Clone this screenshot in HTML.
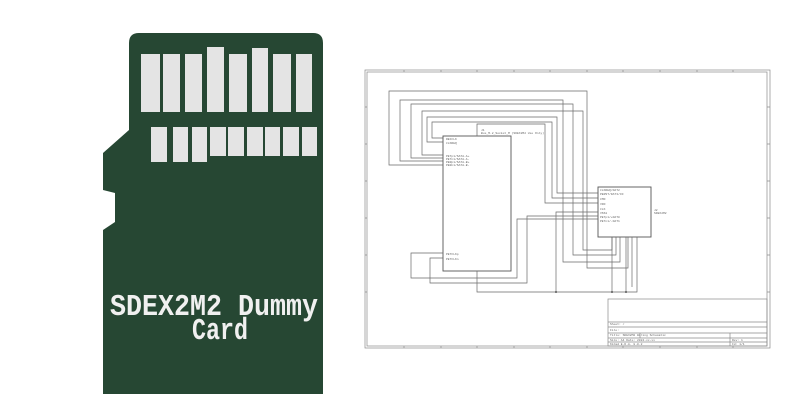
<!DOCTYPE html>
<html><head><meta charset="utf-8"><style>
html,body{margin:0;padding:0;background:#fff;width:800px;height:420px;overflow:hidden}
svg{display:block}
</style></head><body>
<svg width="800" height="420" viewBox="0 0 800 420" xmlns="http://www.w3.org/2000/svg">
<path d="M139,33 H313 Q323,33 323,43 V394 H103 V230 L115,222 V193 L103,190 V153 L129,130 V43 Q129,33 139,33 Z" fill="#264733"/>
<g fill="#e4e4e4">
<rect x="141" y="54" width="19" height="58"/>
<rect x="163" y="54" width="17" height="58"/>
<rect x="185" y="54" width="17" height="58"/>
<rect x="207" y="47" width="17" height="65"/>
<rect x="229" y="54" width="18" height="58"/>
<rect x="252" y="48" width="16" height="64"/>
<rect x="273" y="54" width="18" height="58"/>
<rect x="296" y="54" width="16" height="58"/>
<rect x="151" y="127" width="16" height="35"/>
<rect x="173" y="127" width="15" height="35"/>
<rect x="192" y="127" width="15" height="35"/>
<rect x="210" y="127" width="16" height="29"/>
<rect x="228" y="127" width="16" height="29"/>
<rect x="247" y="127" width="16" height="29"/>
<rect x="265" y="127" width="15" height="29"/>
<rect x="283" y="127" width="16" height="29"/>
<rect x="302" y="127" width="15" height="29"/>
</g>
<g fill="#f0f0f0" font-family="Liberation Mono, monospace" font-weight="bold" font-size="31" text-anchor="middle">
<text x="214" y="315" textLength="208" lengthAdjust="spacingAndGlyphs">SDEX2M2 Dummy</text>
<text x="220" y="339" textLength="56" lengthAdjust="spacingAndGlyphs">Card</text>
</g>
<g fill="none" stroke="#8a8a8a" stroke-width="0.7">
<rect x="365" y="70" width="405" height="278"/>
<rect x="367" y="72" width="400" height="274"/>
<path d="M404,70v2M441,70v2M477,70v2M514,70v2M550,70v2M587,70v2M623,70v2M660,70v2M697,70v2M733,70v2M404,346v2M441,346v2M477,346v2M514,346v2M550,346v2M587,346v2M623,346v2M660,346v2M697,346v2M733,346v2M365,107h2M365,144h2M365,181h2M365,218h2M365,255h2M365,292h2M767,107h3M767,144h3M767,181h3M767,218h3M767,255h3M767,292h3"/>
<rect x="608" y="299" width="159" height="47"/>
<path d="M608,322h159M608,327h159M608,333h159M608,338h159M608,342h159M640,333v5M730,333v13"/>
</g>
<g fill="none" stroke="#555" stroke-width="0.9">
<rect x="443" y="136" width="68" height="135"/>
<rect x="598" y="187" width="53" height="50"/>
</g>
<g fill="none" stroke="#6a6a6a" stroke-width="0.7">
<polyline points="443,165 389,165 389,91 587,91 587,268 628,268 628,237"/>
<polyline points="443,161 400,161 400,100 563,100 563,262 620,262 620,237"/>
<polyline points="443,158 411,158 411,104 573,104 573,255 616,255 616,237"/>
<polyline points="443,155 422,155 422,111 583,111 583,250 612,250 612,237"/>
<polyline points="443,142 427,142 427,117 557,117 557,193 598,193"/>
<polyline points="443,138 432,138 432,122 552,122 552,198 598,198"/>
<polyline points="477,136 477,124 545,124 545,203 598,203"/>
<polyline points="443,253 411,253 411,278 517,278 517,219 598,219"/>
<polyline points="443,258 430,258 430,283 527,283 527,216 598,216"/>
<polyline points="477,271 477,292 637,292 637,237"/>
<polyline points="556,292 556,212 598,212"/>
<polyline points="612,292 612,237"/>
<polyline points="626,292 626,237"/>
<polyline points="632,287 632,237"/>
</g>
<g fill="#555"><circle cx="556" cy="292" r="1"/><circle cx="612" cy="292" r="1"/><circle cx="626" cy="292" r="1"/></g>
<g font-family="Liberation Mono, monospace" font-size="3" fill="#666">
<text x="481" y="131">J1</text><text x="481" y="134">Bus_M.2_Socket_M (SDEX2M2 Use Only)</text>
<text x="446" y="140">REFCLK</text><text x="446" y="144">CLKREQ</text>
<text x="446" y="157">PETp1/SATA-A+</text><text x="446" y="160">PETn1/SATA-A-</text><text x="446" y="163">PERp1/SATA-B+</text><text x="446" y="166">PERn1/SATA-B-</text>
<text x="446" y="255">PETCLKp</text><text x="446" y="260">PETCLKn</text>
<text x="600" y="191">CLKREQ/DAT2</text><text x="600" y="195">PERST/DAT3/CD</text><text x="600" y="200">CMD</text><text x="600" y="205">VDD</text><text x="600" y="210">CLK</text><text x="600" y="214">VSS1</text><text x="600" y="218">PETp1/+DAT0</text><text x="600" y="222">PETn1/-DAT1</text>
<text x="654" y="211">J2</text><text x="654" y="214">SDEX2M2</text>
<text x="610" y="325">Sheet: /</text><text x="610" y="331">File:</text><text x="610" y="336">Title: SDEX2M2 Wiring Schematic</text><text x="610" y="341">Size: A4   Date: 2024-xx-xx</text><text x="610" y="345">KiCad E.D.A. 8.0.2</text><text x="732" y="341">Rev: 1</text><text x="732" y="345">Id: 1/1</text>
</g>
</svg>
</body></html>
